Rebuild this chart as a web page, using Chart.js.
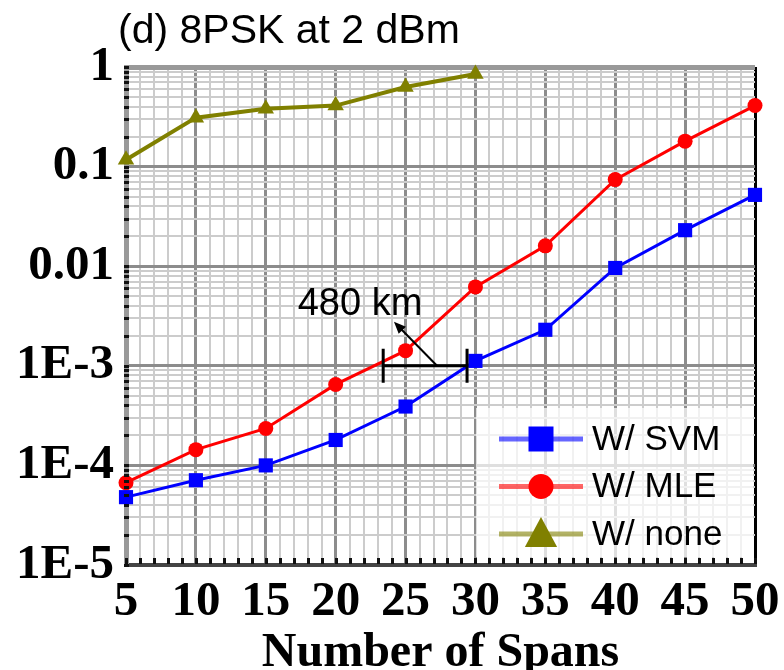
<!DOCTYPE html>
<html>
<head>
<meta charset="utf-8">
<script src="https://cdn.jsdelivr.net/npm/chart.js@4.4.0/dist/chart.umd.min.js"></script>
<style>
  html, body { margin: 0; padding: 0; background: #fff; }
  #wrap { width: 784px; height: 670px; }
</style>
</head>
<body>
<div id="wrap"><canvas id="ber" width="784" height="670"></canvas></div>
<script>
// values
const spans = [5, 10, 15, 20, 25, 30, 35, 40, 45, 50];
const svm = [4.8e-5, 7.1e-5, 1.0e-4, 1.8e-4, 3.9e-4, 1.12e-3, 2.3e-3, 9.6e-3, 0.023, 0.052];
const mle = [6.7e-5, 1.44e-4, 2.35e-4, 6.5e-4, 1.42e-3, 6.2e-3, 0.016, 0.074, 0.18, 0.41];
const noneSpans = [5, 10, 15, 20, 25, 30];
const none = [0.117, 0.31, 0.38, 0.41, 0.63, 0.85];

const yDecades = [1e-5, 1e-4, 1e-3, 1e-2, 1e-1, 1];
const yTickLabels = ['1E-5', '1E-4', '1E-3', '0.01', '0.1', '1'];

// "480 km" marker, in data units (spans, BER)
const bracketX = [23.4, 29.4];
const bracketY = 1e-3;
const arrowFrom = [27.25, 1e-3];
const arrowTo = [24.17, 2.77e-3];
const noteAt = [21.74, 3.26e-3];
const noteText = '480 km';

const serif = '"Liberation Serif", "Times New Roman", serif';
const sans = '"Liberation Sans", Arial, sans-serif';

function isDecade(v) {
  const l = Math.log10(v);
  return Math.abs(l - Math.round(l)) < 1e-6;
}

const titlePlugin = {
  id: 'panelTitle',
  afterDraw(chart) {
    const ctx = chart.ctx;
    ctx.save();
    ctx.font = '41px ' + sans;
    ctx.fillStyle = '#000';
    ctx.textAlign = 'left';
    ctx.textBaseline = 'alphabetic';
    ctx.fillText('(d) 8PSK at 2 dBm', 118, 43);
    ctx.restore();
  }
};

// small black tick marks sitting on the axis lines
const axisTicksPlugin = {
  id: 'axisTicks',
  afterDraw(chart) {
    const ctx = chart.ctx, a = chart.chartArea;
    ctx.save();
    ctx.fillStyle = '#111';
    chart.scales.y.ticks.forEach(t => {
      const py = chart.scales.y.getPixelForValue(t.value);
      ctx.fillRect(a.left - 2, Math.round(py) - 1, 5, 3);
    });
    chart.scales.x.ticks.forEach(t => {
      const px = chart.scales.x.getPixelForValue(t.value);
      ctx.fillRect(Math.round(px) - 1, a.bottom - 7, 3, 6);
    });
    ctx.restore();
  }
};

const notePlugin = {
  id: 'spanNote',
  afterDatasetsDraw(chart) {
    const ctx = chart.ctx, xs = chart.scales.x, ys = chart.scales.y;
    const x1 = xs.getPixelForValue(bracketX[0]), x2 = xs.getPixelForValue(bracketX[1]);
    const yb = ys.getPixelForValue(bracketY);
    ctx.save();
    ctx.strokeStyle = '#000';
    ctx.fillStyle = '#000';
    ctx.lineWidth = 3;
    ctx.beginPath();
    ctx.moveTo(x1, yb); ctx.lineTo(x2, yb);
    ctx.moveTo(x1, yb - 17); ctx.lineTo(x1, yb + 17);
    ctx.moveTo(x2, yb - 17); ctx.lineTo(x2, yb + 17);
    ctx.stroke();

    const ax = xs.getPixelForValue(arrowFrom[0]), ay = ys.getPixelForValue(arrowFrom[1]);
    const hx = xs.getPixelForValue(arrowTo[0]), hy = ys.getPixelForValue(arrowTo[1]);
    const ang = Math.atan2(hy - ay, hx - ax);
    ctx.lineWidth = 2;
    ctx.beginPath();
    ctx.moveTo(ax, ay);
    ctx.lineTo(hx - 8 * Math.cos(ang), hy - 8 * Math.sin(ang));
    ctx.stroke();
    ctx.beginPath();
    ctx.moveTo(hx, hy);
    ctx.lineTo(hx - 13 * Math.cos(ang - 0.4), hy - 13 * Math.sin(ang - 0.4));
    ctx.lineTo(hx - 13 * Math.cos(ang + 0.4), hy - 13 * Math.sin(ang + 0.4));
    ctx.closePath();
    ctx.fill();

    ctx.font = '38px ' + sans;
    ctx.textAlign = 'center';
    ctx.textBaseline = 'alphabetic';
    ctx.fillText(noteText, xs.getPixelForValue(noteAt[0]), ys.getPixelForValue(noteAt[1]));
    ctx.restore();
  }
};

function drawMarker(ctx, style, x, y, size, color) {
  ctx.fillStyle = color;
  ctx.beginPath();
  if (style === 'rect') {
    ctx.rect(x - size / 2, y - size / 2, size, size);
  } else if (style === 'circle') {
    ctx.arc(x, y, size / 2, 0, Math.PI * 2);
  } else {
    ctx.moveTo(x, y - size * 0.55);
    ctx.lineTo(x + size * 0.52, y + size * 0.42);
    ctx.lineTo(x - size * 0.52, y + size * 0.42);
    ctx.closePath();
  }
  ctx.fill();
}

const legendPlugin = {
  id: 'boxLegend',
  afterDatasetsDraw(chart) {
    const ctx = chart.ctx, a = chart.chartArea;
    const bx = 476, by = 408;
    ctx.save();
    ctx.fillStyle = 'rgba(255,255,255,0.72)';
    ctx.fillRect(bx, by, a.right - bx - 2, a.bottom - by - 8);
    const sizes = [25, 25, 31];
    chart.data.datasets.forEach((ds, i) => {
      const y = 439 + i * 47.5;
      ctx.globalAlpha = 0.6;
      ctx.strokeStyle = ds.borderColor;
      ctx.lineWidth = 5;
      ctx.beginPath();
      ctx.moveTo(499, y); ctx.lineTo(583, y);
      ctx.stroke();
      ctx.globalAlpha = 1;
      drawMarker(ctx, ds.pointStyle, 541, y, sizes[i], ds.pointBackgroundColor);
      ctx.fillStyle = '#000';
      ctx.font = '35px ' + sans;
      ctx.textAlign = 'left';
      ctx.textBaseline = 'middle';
      ctx.fillText(ds.label, 592, y + 1);
    });
    ctx.restore();
  }
};

new Chart(document.getElementById('ber'), {
  type: 'line',
  data: {
    datasets: [
      {
        label: 'W/ SVM',
        data: spans.map((s, i) => ({ x: s, y: svm[i] })),
        borderColor: '#0000ff',
        backgroundColor: '#0000ff',
        pointBackgroundColor: '#0000ff',
        pointBorderWidth: 0,
        pointStyle: 'rect',
        pointRadius: 10,
        borderWidth: 3
      },
      {
        label: 'W/ MLE',
        data: spans.map((s, i) => ({ x: s, y: mle[i] })),
        borderColor: '#ff0000',
        backgroundColor: '#ff0000',
        pointBackgroundColor: '#ff0000',
        pointBorderWidth: 0,
        pointStyle: 'circle',
        pointRadius: 7.5,
        borderWidth: 3
      },
      {
        label: 'W/ none',
        data: noneSpans.map((s, i) => ({ x: s, y: none[i] })),
        borderColor: '#808000',
        backgroundColor: '#808000',
        pointBackgroundColor: '#808000',
        pointBorderWidth: 0,
        pointStyle: 'triangle',
        pointRadius: 9.5,
        borderWidth: 4
      }
    ]
  },
  options: {
    responsive: false,
    animation: false,
    devicePixelRatio: 1,
    clip: false,
    layout: { padding: { left: 0, right: 29, top: 67, bottom: 0 } },
    plugins: { legend: { display: false }, tooltip: { enabled: false } },
    scales: {
      x: {
        type: 'linear',
        min: 5,
        max: 50,
        afterFit: s => { s.height = 105; s.paddingLeft = 0; s.paddingRight = 0; },
        ticks: {
          stepSize: 1,
          autoSkip: false,
          maxRotation: 0,
          minRotation: 0,
          padding: 8,
          color: '#000',
          font: { family: serif, size: 49, weight: 'bold' },
          callback: v => spans.includes(v) ? String(v) : ''
        },
        grid: {
          drawTicks: false,
          color: c => c.tick.value === 50 ? '#000' : (c.tick.value % 5 === 0 ? '#8c8c8c' : '#cccccc'),
          lineWidth: c => c.tick.value % 5 === 0 ? 3 : 2
        },
        border: { color: '#444', width: 4 },
        title: {
          display: true,
          text: 'Number of Spans',
          color: '#000',
          font: { family: serif, size: 48, weight: 'bold', lineHeight: 0.67 },
          padding: { top: 0, bottom: 0 }
        }
      },
      y: {
        type: 'logarithmic',
        min: 1e-5,
        max: 1,
        afterFit: s => { s.width = 126; s.paddingTop = 0; s.paddingBottom = 0; },
        afterBuildTicks: s => {
          s.ticks = s.ticks.filter(t => {
            const m = t.value / Math.pow(10, Math.floor(Math.log10(t.value) + 1e-9));
            return Math.abs(m - Math.round(m)) < 1e-6;
          });
        },
        ticks: {
          autoSkip: false,
          padding: 12,
          color: '#000',
          font: { family: serif, size: 49, weight: 'bold' },
          callback: v => {
            const i = yDecades.findIndex(d => Math.abs(d - v) / d < 1e-6);
            return i >= 0 ? yTickLabels[i] : '';
          }
        },
        grid: {
          drawTicks: false,
          color: c => c.tick.value === 1 ? '#999999' : (isDecade(c.tick.value) ? '#8c8c8c' : '#cccccc'),
          lineWidth: c => c.tick.value === 1 ? 5 : (isDecade(c.tick.value) ? 3 : 2)
        },
        border: { color: '#999', width: 5 }
      }
    }
  },
  plugins: [titlePlugin, axisTicksPlugin, notePlugin, legendPlugin]
});
</script>
</body>
</html>
